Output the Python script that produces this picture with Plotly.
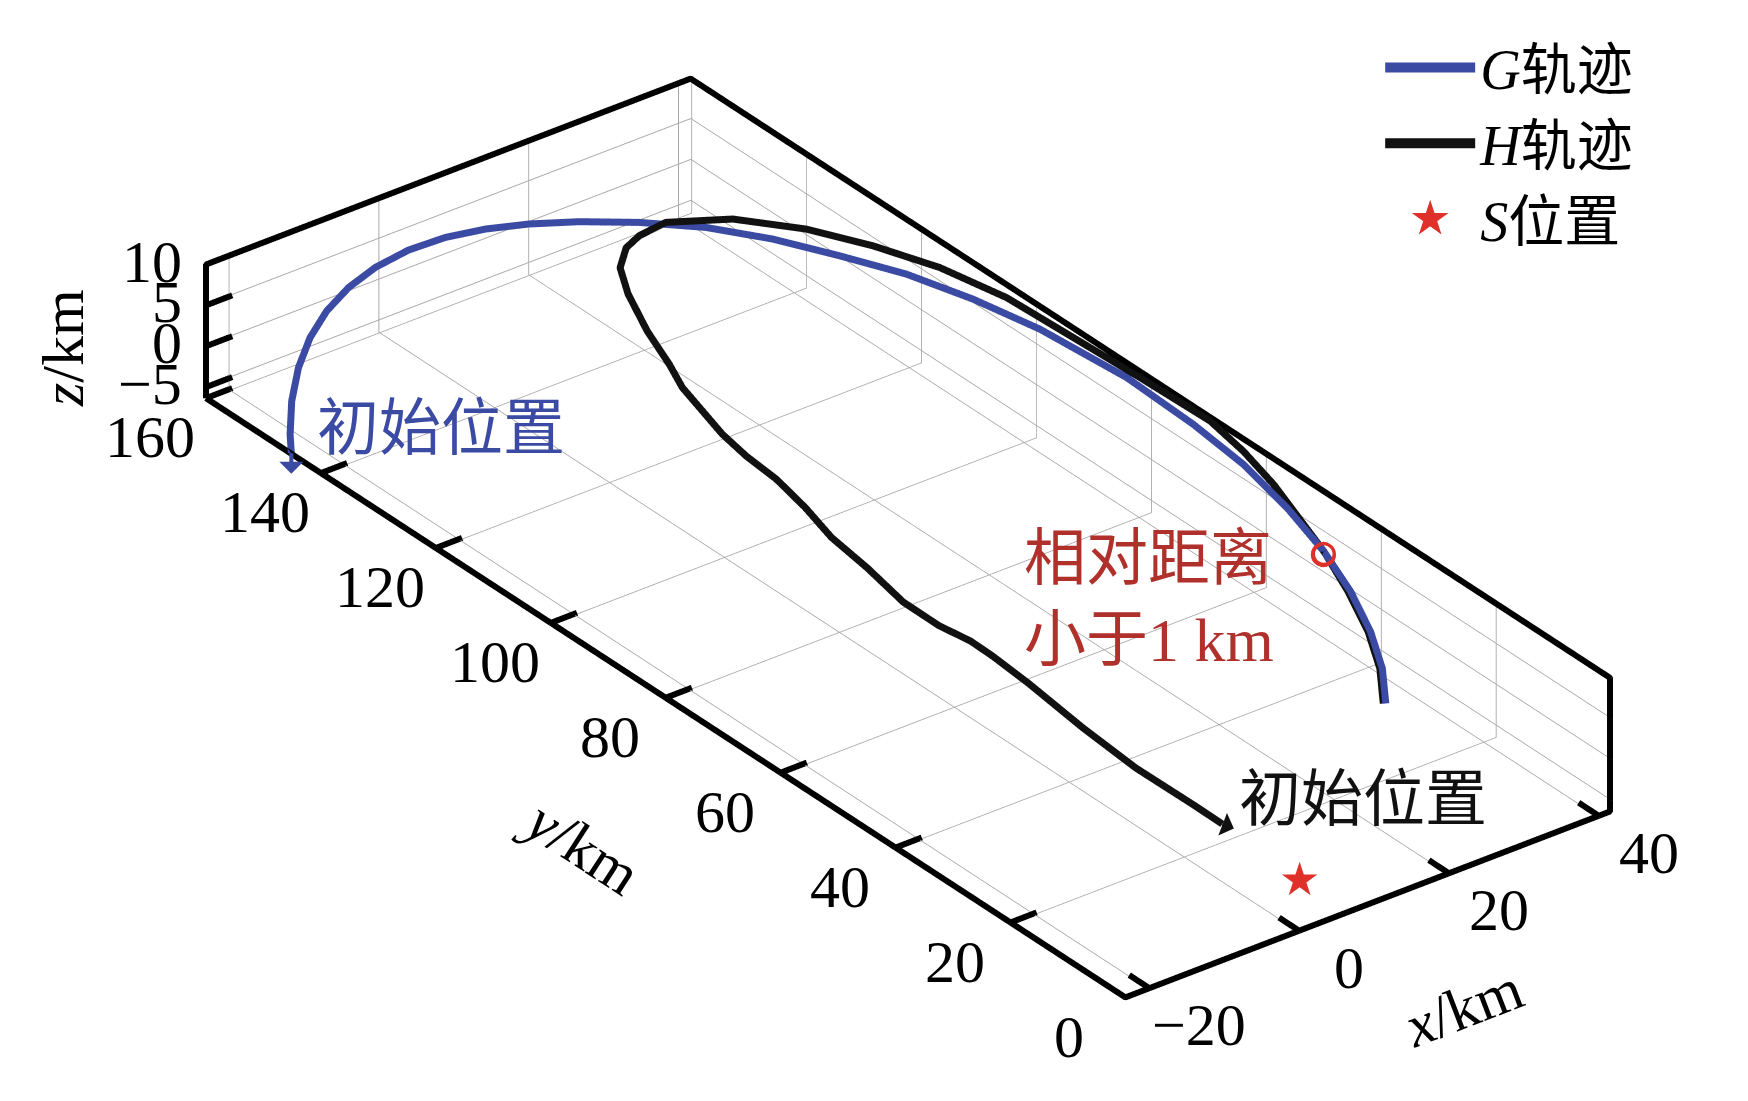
import plotly.graph_objects as go

# ---------------- data ----------------
X_RANGE = [-23.2, 41.5]
Y_RANGE = [0, 160]
Z_RANGE = [-6.35, 10]

x_tick_vals = [-20, 0, 20, 40]
y_tick_vals = [0, 20, 40, 60, 80, 100, 120, 140, 160]
z_tick_vals = [-5, 0, 5, 10]

# G trajectory (starts at its initial position)
g_x = [-23.17, -21.49, -17.89, -13.97, -10.18, -7.44, -4.48, -0.92, 3.18, 7.16,
       10.98, 14.65, 18.53, 22.85, 27.19, 30.77, 33.70, 36.43, 38.28, 39.50,
       40.02, 39.27, 38.21, 36.48, 34.38, 31.99, 29.02, 25.80, 22.09]
g_y = [145.19, 147.59, 152.00, 155.94, 158.86, 159.53, 159.58, 159.58, 159.13, 157.91,
       155.91, 153.13, 149.46, 144.65, 138.66, 131.72, 123.92, 115.83, 106.62, 96.58,
       82.14, 69.57, 59.46, 49.63, 40.51, 32.74, 25.40, 19.16, 13.72]
g_z = [-6.3, -5.7, -4.9, -4.0, -3.0, -1.0, 0.8, 2.0, 2.9, 3.6,
       4.2, 4.8, 5.4, 6.0, 6.6, 7.1, 7.6, 8.1, 8.6, 9.1,
       9.6, 9.9, 10.0, 9.8, 9.4, 8.9, 8.4, 7.9, 7.4]

# H trajectory (starts at its initial position)
h_x = [0.61, 0.34, -0.28, -0.07, 0.46, 0.64, 0.51, -0.37, -0.64, 0.31,
       0.81, 2.17, 3.06, 3.19, 3.68, 5.91, 7.51, 9.63, 12.49, 14.87,
       17.65, 19.97, 23.63, 29.25, 33.71, 36.74, 39.13, 40.45, 40.47, 40.88,
       41.01, 39.96, 38.37, 34.38, 32.09, 29.13, 25.91, 22.19]
h_y = [14.17, 18.73, 28.06, 37.67, 47.71, 54.16, 57.89, 62.20, 68.08, 75.54,
       82.43, 88.85, 94.96, 100.36, 105.14, 115.02, 119.41, 126.01, 133.07, 137.56,
       140.12, 140.88, 141.00, 136.71, 129.73, 122.06, 113.55, 103.63, 97.85, 80.94,
       68.91, 61.80, 54.43, 40.51, 33.32, 25.97, 19.73, 14.29]
h_z = [0.0, 0.3, 0.8, 1.3, 1.9, 2.2, 2.4, 2.6, 2.9, 3.3,
       3.7, 4.0, 4.3, 4.6, 4.9, 5.3, 5.6, 5.9, 6.2, 6.5,
       6.8, 7.1, 7.4, 7.8, 8.2, 8.6, 9.0, 9.4, 9.6, 9.85,
       10.0, 9.95, 9.8, 9.4, 8.6, 8.1, 7.6, 7.1]

s_pos = [0.0, 0.0, 0.0]            # S position
meet_pos = [34.38, 40.51, 9.4]     # relative distance < 1 km

# ---------------- style ----------------
BLUE = "#3b4aa3"
BLACK = "#111111"
RED = "#e0302a"
DARKRED = "#b0302b"
SERIF = "Liberation Serif, Times New Roman, serif"
MIXED = "Liberation Serif, Noto Sans CJK SC, serif"
TICK_LEN = 3.5   # in data units
ZOOM = 2.85      # orthographic zoom (applied through aspectratio)
PAD = 0.15       # keeps the box lines clear of the clip planes

fig = go.Figure()

x0, x1 = X_RANGE
y0, y1 = Y_RANGE
z0, z1 = Z_RANGE
xr = [x0 - PAD, x1 + PAD]
yr = [y0 - PAD, y1 + PAD]
zr = [z0 - PAD, z1 + PAD]

# box outline built from the axis ranges
box_x = [x0, x0, x1, x1, x1, x0, x0]
box_y = [y1, y1, y1, y0, y0, y0, y1]
box_z = [z0, z1, z1, z1, z0, z0, z0]
fig.add_trace(go.Scatter3d(x=box_x, y=box_y, z=box_z, mode="lines",
                           line=dict(color="black", width=12),
                           showlegend=False, hoverinfo="skip"))

# tick marks built from the tick values
tx, ty, tz = [], [], []
for v in x_tick_vals:
    tx += [v, v, None]; ty += [y0, y0 + TICK_LEN, None]; tz += [z0, z0, None]
for v in y_tick_vals:
    tx += [x0, x0 + TICK_LEN, None]; ty += [v, v, None]; tz += [z0, z0, None]
for v in z_tick_vals:
    tx += [x0, x0 + TICK_LEN, None]; ty += [y1, y1, None]; tz += [v, v, None]
fig.add_trace(go.Scatter3d(x=tx, y=ty, z=tz, mode="lines",
                           line=dict(color="black", width=12),
                           showlegend=False, hoverinfo="skip", connectgaps=False))

fig.add_trace(go.Scatter3d(x=g_x, y=g_y, z=g_z, mode="lines",
                           line=dict(color=BLUE, width=14),
                           name="<i>G</i>轨迹"))
fig.add_trace(go.Scatter3d(x=h_x, y=h_y, z=h_z, mode="lines",
                           line=dict(color=BLACK, width=14),
                           name="<i>H</i>轨迹"))
# legend entry for S (star symbol)
fig.add_trace(go.Scatter(x=[None], y=[None], mode="markers",
                         marker=dict(symbol="star", size=16, color=RED,
                                     line=dict(color=RED, width=5)),
                         name="<i>S</i>位置"))

axis_common = dict(
    showbackground=False,
    showgrid=True, gridcolor="rgb(172,166,166)", gridwidth=2,
    zeroline=False, showline=False, ticks="", showticklabels=False,
    title=dict(text=""), showspikes=False,
)

tick_font = dict(family=SERIF, size=60, color="black")
scene_ann = []
for v in x_tick_vals:
    scene_ann.append(dict(x=v, y=y0, z=z0, text=f"{v:d}".replace("-", "\u2212"),
                          showarrow=False, xshift=50, yshift=-37, font=tick_font))
for v in y_tick_vals:
    scene_ann.append(dict(x=x0, y=v, z=z0, text=f"{v:d}", showarrow=False,
                          xshift=-56, yshift=-39, font=tick_font))
for v in z_tick_vals:
    scene_ann.append(dict(x=x0, y=y1, z=v, text=f"{v:d}".replace("-", "\u2212"),
                          showarrow=False, xanchor="right", xshift=-22, yshift=3,
                          font=tick_font))
scene_ann.append(dict(x=s_pos[0], y=s_pos[1], z=s_pos[2], text="★", showarrow=False,
                      font=dict(family="DejaVu Sans", size=46, color=RED)))
# thick red ring at the close-approach point (concentric rings)
for sz in (27, 29, 31, 33):
    scene_ann.append(dict(x=meet_pos[0], y=meet_pos[1], z=meet_pos[2], text="<b>○</b>",
                          showarrow=False,
                          font=dict(family="DejaVu Sans", size=sz, color=RED)))
scene_ann += [
    dict(x=g_x[0], y=g_y[0], z=g_z[0], text="", showarrow=True, arrowside="start",
         arrowhead=2, arrowsize=2.0, arrowwidth=4, arrowcolor=BLUE,
         ax=0, ay=22),
    dict(x=h_x[0], y=h_y[0], z=h_z[0], text="", showarrow=True, arrowside="start",
         arrowhead=2, arrowsize=1.7, arrowwidth=4, arrowcolor=BLACK,
         ax=13, ay=5),
]

fig.update_layout(
    width=1748, height=1101,
    paper_bgcolor="white", plot_bgcolor="rgba(0,0,0,0)",
    margin=dict(l=0, r=0, t=0, b=0),
    showlegend=True,
    legend=dict(x=0.785, y=0.985, xanchor="left", yanchor="top",
                itemwidth=90,
                font=dict(family=MIXED, size=56, color="black"),
                bgcolor="rgba(0,0,0,0)"),
    xaxis=dict(visible=False), yaxis=dict(visible=False),
    hovermode=False,
    scene=dict(
        domain=dict(x=[0.0349, 0.9949], y=[0.037, 1.0]),
        xaxis=dict(range=xr, tickvals=x_tick_vals, **axis_common),
        yaxis=dict(range=yr, tickvals=y_tick_vals, **axis_common),
        zaxis=dict(range=zr, tickvals=z_tick_vals, **axis_common),
        aspectmode="manual",
        aspectratio=dict(x=ZOOM * (xr[1] - xr[0]) / 160.0,
                         y=ZOOM * (yr[1] - yr[0]) / 160.0,
                         z=ZOOM * (zr[1] - zr[0]) / 160.0),
        camera=dict(projection=dict(type="orthographic"),
                    eye=dict(x=-3.163, y=-4.123, z=3.0),
                    up=dict(x=0, y=0, z=1), center=dict(x=0, y=0, z=0)),
        annotations=scene_ann,
    ),
    annotations=[
        dict(x=433 / 1748, y=1 - 421 / 1101, xref="paper", yref="paper",
             xanchor="center", yanchor="middle",
             text="初始位置", showarrow=False,
             font=dict(family=MIXED, size=62, color=BLUE)),
        dict(x=1355 / 1748, y=1 - 792 / 1101, xref="paper", yref="paper",
             xanchor="center", yanchor="middle",
             text="初始位置", showarrow=False,
             font=dict(family=MIXED, size=62, color=BLACK)),
        dict(x=1014 / 1748, y=1 - 592 / 1101, xref="paper", yref="paper",
             xanchor="left", yanchor="middle",
             text="相对距离<br>小于1 km", showarrow=False, align="left",
             font=dict(family=MIXED, size=62, color=DARKRED)),
        dict(x=55 / 1748, y=1 - 340 / 1101, xref="paper", yref="paper",
             xanchor="center", yanchor="middle", textangle=-90,
             text="<i>z</i>/km", showarrow=False, font=tick_font),
        dict(x=573 / 1748, y=1 - 838 / 1101, xref="paper", yref="paper",
             xanchor="center", yanchor="middle", textangle=33,
             text="<i>y</i>/km", showarrow=False, font=tick_font),
        dict(x=1455 / 1748, y=1 - 1000 / 1101, xref="paper", yref="paper",
             xanchor="center", yanchor="middle", textangle=-21,
             text="<i>x</i>/km", showarrow=False, font=tick_font),
    ],
)

fig.write_html("out.html")
